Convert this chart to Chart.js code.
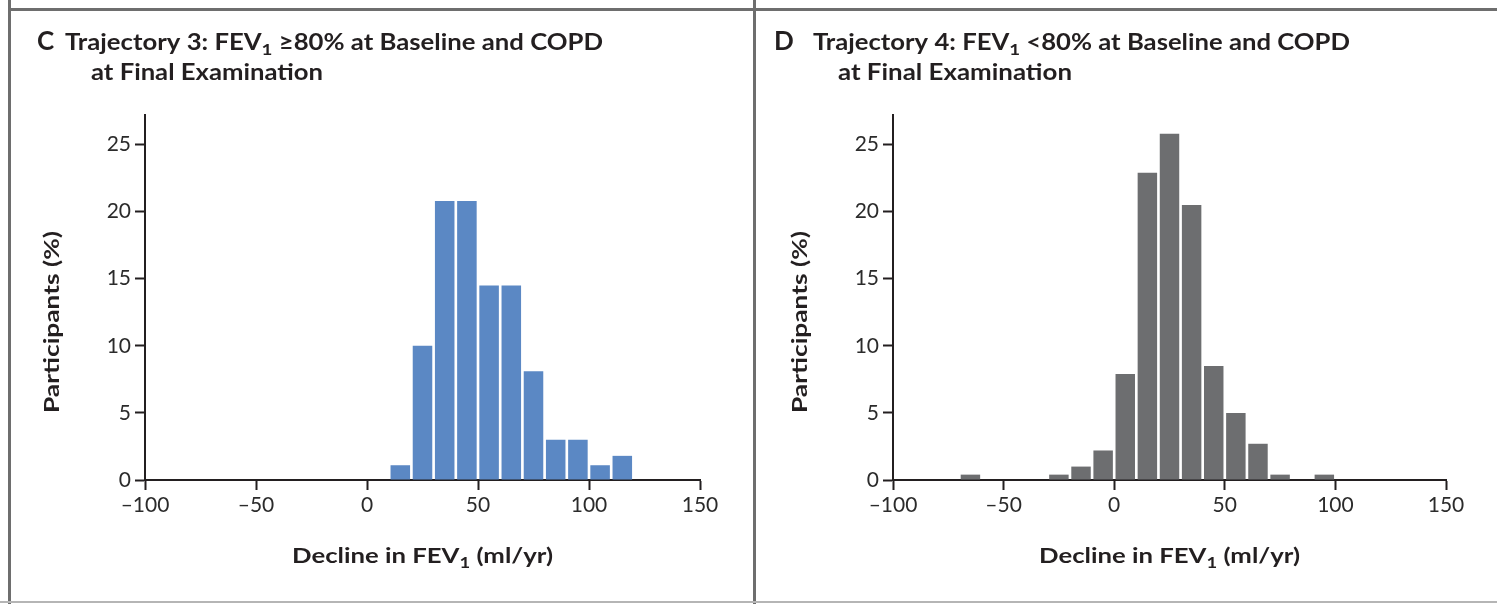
<!DOCTYPE html>
<html>
<head>
<meta charset="utf-8">
<script src="https://cdn.jsdelivr.net/npm/chart.js@4/dist/chart.umd.min.js"></script>
<style>
  html, body { margin: 0; padding: 0; background: #ffffff; }
  #wrap { position: relative; width: 1497px; height: 604px; overflow: hidden; background: #fff; }
  canvas { position: absolute; top: 0; }
  .rule { position: absolute; background: #6e6e6e; }
</style>
</head>
<body>
<div id="wrap">
  <canvas id="chartC" width="748" height="604" style="left:0px"></canvas>
  <canvas id="chartD" width="749" height="604" style="left:748px"></canvas>
  <div class="rule" style="left:11px; top:8px; width:1486px; height:3px;"></div>
  <div class="rule" style="left:8px; top:0px; width:3px; height:604px;"></div>
  <div class="rule" style="left:753px; top:0px; width:3px; height:604px;"></div>
  <div class="rule" style="left:0px; top:601px; width:1497px; height:2px; background:#b5b5b5;"></div>
</div>
<script>
// ---------------- DATA ----------------
// Histogram bins of 10 ml/yr, identified by their lower edge
const binStartsC = [10, 20, 30, 40, 50, 60, 70, 80, 90, 100, 110];
const participantsC = [1.1, 10.0, 20.8, 20.8, 14.5, 14.5, 8.1, 3.0, 3.0, 1.1, 1.8];

const binStartsD = [-70, -30, -20, -10, 0, 10, 20, 30, 40, 50, 60, 70, 90];
const participantsD = [0.4, 0.4, 1.0, 2.2, 7.9, 22.9, 25.8, 20.5, 8.5, 5.0, 2.7, 0.4, 0.4];

const binWidth = 10;
const xTickValues = [-100, -50, 0, 50, 100, 150];
const yTickValues = [0, 5, 10, 15, 20, 25];

const titleC = { letter: 'C', pre: 'Trajectory 3: FEV', sub: '1', post: ' \u226580% at Baseline and COPD', line2: 'at Final Examination' };
const titleD = { letter: 'D', pre: 'Trajectory 4: FEV', sub: '1', post: ' <80% at Baseline and COPD', line2: 'at Final Examination' };
const xTitle = { pre: 'Decline in FEV', sub: '1', post: ' (ml/yr)' };
const yTitle = 'Participants (%)';

// ---------------- HELPERS ----------------
const FONT = 'Lato, "Open Sans", sans-serif';
const INK = '#231f20';

function drawRich(ctx, segs, x, y, targetW, align) {
  let total = 0;
  const widths = segs.map(s => {
    ctx.font = `${s.weight || 'bold'} ${s.size}px ${FONT}`;
    const w = ctx.measureText(s.t).width;
    total += w;
    return w;
  });
  const sx = targetW ? targetW / total : 1;
  ctx.save();
  let x0 = x;
  if (align === 'center') x0 = x - (total * sx) / 2;
  ctx.translate(x0, y);
  ctx.scale(sx, 1);
  ctx.textBaseline = 'alphabetic';
  ctx.textAlign = 'left';
  ctx.fillStyle = INK;
  let cx = 0;
  segs.forEach((s, i) => {
    ctx.font = `${s.weight || 'bold'} ${s.size}px ${FONT}`;
    ctx.fillText(s.t, cx, s.dy || 0);
    cx += widths[i];
  });
  ctx.restore();
}

const textPlugin = {
  id: 'panelText',
  afterDraw(chart, args, o) {
    const ctx = chart.ctx;
    const t = o.title;
    drawRich(ctx, [{ t: t.letter, size: 26 }], o.letterX, 50, null, 'left');
    drawRich(ctx, [
      { t: t.pre, size: 22 },
      { t: t.sub, size: 16, dy: 5 },
      { t: t.post, size: 22 }
    ], o.line1X, 50, o.line1W, 'left');
    drawRich(ctx, [{ t: t.line2, size: 22 }], o.line2X, 80, o.line2W, 'left');
    const ca = chart.chartArea;
    drawRich(ctx, [
      { t: xTitle.pre, size: 21 },
      { t: xTitle.sub, size: 15, dy: 5 },
      { t: xTitle.post, size: 21 }
    ], (ca.left + ca.right) / 2, 563, 261, 'center');
    ctx.save();
    ctx.translate(o.yTitleX, 322);
    ctx.rotate(-Math.PI / 2);
    drawRich(ctx, [{ t: yTitle, size: 21 }], 0, 7, 182, 'center');
    ctx.restore();
  }
};

function makeChart(id, starts, values, color, layout) {
  const points = starts.map((s, i) => ({ x: s + binWidth / 2, y: values[i] }));
  return new Chart(document.getElementById(id), {
    type: 'bar',
    data: {
      datasets: [{
        data: points,
        backgroundColor: color,
        borderWidth: 0,
        barPercentage: 0.88,
        categoryPercentage: 1.0
      }]
    },
    options: {
      responsive: false,
      animation: false,
      devicePixelRatio: 1,
      layout: { padding: { left: 0, right: layout.rightPad, top: 115, bottom: 0 } },
      plugins: {
        legend: { display: false },
        tooltip: { enabled: false },
        title: { display: false },
        panelText: layout.text
      },
      scales: {
        x: {
          type: 'linear',
          offset: false,
          min: xTickValues[0],
          max: xTickValues[xTickValues.length - 1],
          afterBuildTicks: s => { s.ticks = xTickValues.map(v => ({ value: v })); },
          afterFit: s => { s.height = 124; },
          border: { display: true, color: INK, width: 2 },
          grid: { offset: false, drawOnChartArea: false, drawTicks: true, tickLength: 10, tickWidth: 2, tickColor: INK },
          ticks: {
            padding: 3,
            color: '#2b2b2b',
            font: { family: FONT, size: 21 },
            maxRotation: 0,
            callback: v => String(v).replace('-', '\u2013')
          }
        },
        y: {
          type: 'linear',
          min: 0,
          max: 27.2,
          afterBuildTicks: s => { s.ticks = yTickValues.map(v => ({ value: v })); },
          afterFit: s => { s.width = 145; },
          border: { display: true, color: INK, width: 2 },
          grid: { offset: false, drawOnChartArea: false, drawTicks: true, tickLength: 10, tickWidth: 2, tickColor: INK },
          ticks: {
            padding: 4,
            color: '#2b2b2b',
            font: { family: FONT, size: 21 }
          }
        }
      }
    },
    plugins: [textPlugin]
  });
}

makeChart('chartC', binStartsC, participantsC, '#5b88c4', {
  rightPad: 48,
  text: { title: titleC, letterX: 37, line1X: 65, line1W: 538, line2X: 91, line2W: 232, yTitleX: 52 }
});
makeChart('chartD', binStartsD, participantsD, '#6d6e70', {
  rightPad: 51,
  text: { title: titleD, letterX: 26, line1X: 65, line1W: 537, line2X: 90, line2W: 234, yTitleX: 52 }
});
</script>
</body>
</html>
